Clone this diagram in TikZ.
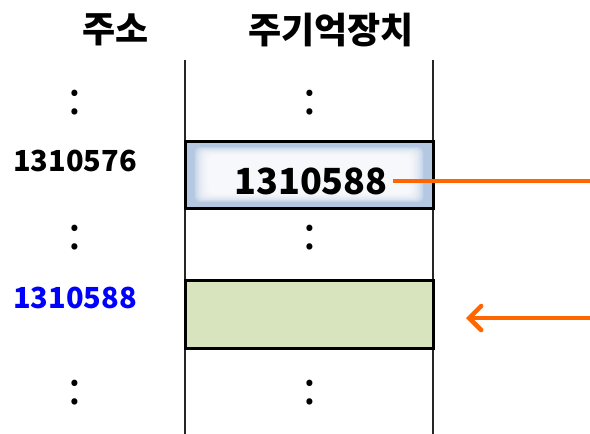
\documentclass[tikz,border=0pt]{standalone}
\usepackage{fontspec}
\setmainfont{Noto Sans CJK KR}
\usetikzlibrary{arrows.meta}
\definecolor{cellblue}{HTML}{B4C8E2}
\definecolor{cellgreen}{HTML}{D7E4BD}
\definecolor{ptrorange}{HTML}{FF6600}
\tikzset{
  head/.style={font=\bfseries\fontsize{36}{40}\selectfont},
  addr/.style={font=\bfseries\fontsize{29}{32}\selectfont},
  dots/.style={font=\fontsize{46}{50}\selectfont},
  cell/.style={draw=black,line width=3pt},
  ptr/.style={ptrorange,line width=4.5pt}
}
\begin{document}
\begin{tikzpicture}[x=1pt,y=-1pt,>={Straight Barb[length=12pt,width=24pt,line cap=round]}]
\useasboundingbox (0,0) rectangle (590,434);
% headers
\node[head] (hAddr) at (116,30) {주소};
\node[head] (hMem) at (331,30) {주기억장치};
% memory column
\draw[line width=2pt,black!85] (185,60) -- (185,434);
\draw[line width=2pt,black!85] (433,60) -- (433,434);
% cell holding the pointer
\fill[cellblue] (185,141) rectangle (433,208);
\foreach \i in {6,...,15}
  \fill[white,opacity=0.22,rounded corners=6pt] (185+1.6*\i,141+1*\i) rectangle (433-1.6*\i,208-1*\i);
\draw[cell] (185,141) rectangle (433,208);
% target cell
\draw[cell,fill=cellgreen] (185,280) rectangle (433,348);
% addresses
\node[dots] (d1) at (75,103) {:};
\node[dots] (d2) at (310,103) {:};
\node[addr] (a1) at (75,161) {1310576};
\node[font=\bfseries\fontsize{36}{40}\selectfont] (val) at (311,181) {1310588};
\node[dots] (d3) at (75,238) {:};
\node[dots] (d4) at (310,238) {:};
\node[addr,blue] (a2) at (75,298) {1310588};
\node[dots] (d5) at (75,393) {:};
\node[dots] (d6) at (310,393) {:};
% pointer
\coordinate (outR) at (590,181);
\coordinate (inR) at (590,318);
\coordinate (tip) at (466,318);
\draw[ptr] ([xshift=2pt]val.east) -- (outR);
\draw[ptr,->] (inR) -- (tip);
\end{tikzpicture}
\end{document}
